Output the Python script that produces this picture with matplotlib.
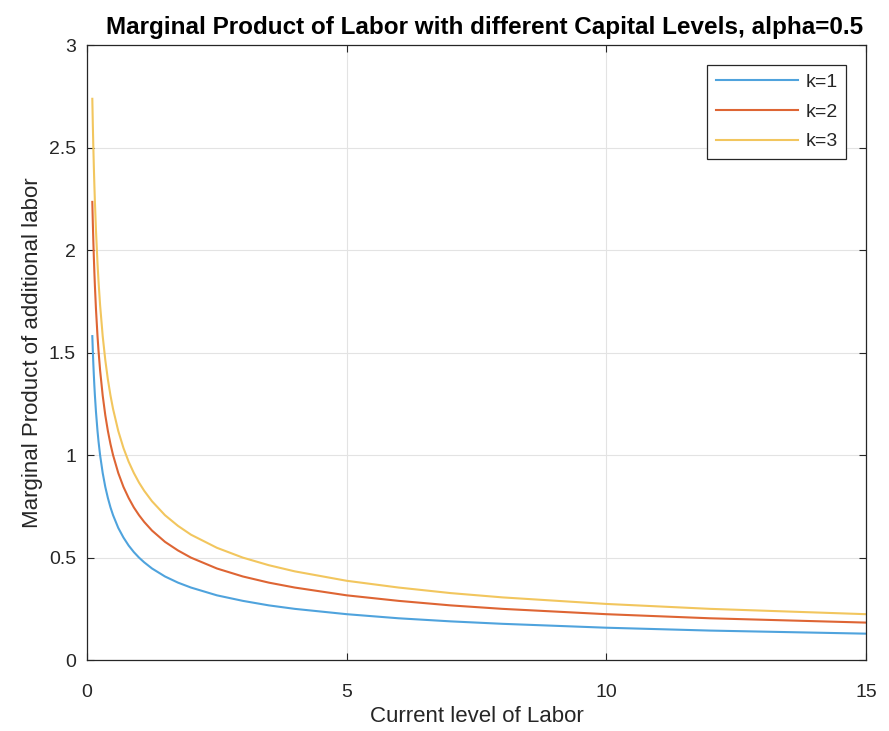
import matplotlib
matplotlib.use("Agg")
import matplotlib.pyplot as plt

plt.rcParams['font.family'] = ['Liberation Sans', 'DejaVu Sans']

# current level of labor
labor = [0.1, 0.11, 0.12, 0.13, 0.14, 0.15, 0.17, 0.2, 0.22, 0.25, 0.3, 0.35, 0.4, 0.45,
         0.5, 0.6, 0.7, 0.8, 0.9, 1.0, 1.1, 1.25, 1.5, 1.75, 2, 2.5, 3, 3.5, 4, 5, 6, 7, 8,
         10, 12, 15]

# marginal product of labor
mpl_k1 = [1.581, 1.508, 1.443, 1.387, 1.336, 1.291, 1.213, 1.118, 1.066, 1.0, 0.913, 0.845,
          0.791, 0.745, 0.707, 0.645, 0.598, 0.559, 0.527, 0.5, 0.477, 0.447, 0.408, 0.378,
          0.354, 0.316, 0.289, 0.267, 0.25, 0.224, 0.204, 0.189, 0.177, 0.158, 0.144, 0.129]
mpl_k2 = [2.236, 2.132, 2.041, 1.961, 1.890, 1.826, 1.715, 1.581, 1.508, 1.414, 1.291, 1.195,
          1.118, 1.054, 1.0, 0.913, 0.845, 0.791, 0.745, 0.707, 0.674, 0.632, 0.577, 0.535,
          0.5, 0.447, 0.408, 0.378, 0.354, 0.316, 0.289, 0.267, 0.25, 0.224, 0.204, 0.183]
mpl_k3 = [2.739, 2.611, 2.5, 2.402, 2.315, 2.236, 2.100, 1.936, 1.846, 1.732, 1.581, 1.464,
          1.369, 1.291, 1.225, 1.118, 1.035, 0.968, 0.913, 0.866, 0.826, 0.775, 0.707, 0.655,
          0.612, 0.548, 0.5, 0.463, 0.433, 0.387, 0.354, 0.327, 0.306, 0.274, 0.25, 0.224]

labels = ["k=1", "k=2", "k=3"]
colors = ["#4FA3DD", "#DE6534", "#F2C65E"]

fig = plt.figure(figsize=(8.89, 7.31), dpi=100)
ax = fig.add_axes([0.098, 0.097, 0.876, 0.841])

for y, lab, c in zip([mpl_k1, mpl_k2, mpl_k3], labels, colors):
    ax.plot(labor, y, color=c, linewidth=1.5, label=lab)

ax.set_xlim(0, 15)
ax.set_ylim(0, 3)
ax.set_xticks([0, 5, 10, 15])
ax.set_yticks([0, 0.5, 1, 1.5, 2, 2.5, 3])
ax.set_yticklabels(["0", "0.5", "1", "1.5", "2", "2.5", "3"])
ax.grid(True, color="#e3e3e3", linewidth=0.8)
ax.set_axisbelow(True)
ax.tick_params(direction="in", labelsize=14, colors="#262626", length=5, top=True, right=True,
               labeltop=False, labelright=False)
ax.tick_params(axis="x", pad=17)
ax.tick_params(axis="y", pad=8)
for s in ax.spines.values():
    s.set_color("#262626")
    s.set_linewidth(0.9)

ax.set_xlabel("Current level of Labor", fontsize=16, color="#262626", labelpad=4)
ax.set_ylabel("Marginal Product of additional labor", fontsize=16, color="#262626", labelpad=4)
ax.set_title("Marginal Product of Labor with different Capital Levels, alpha=0.5",
             fontsize=17.5, fontweight="bold", pad=8, x=0.51)

leg = ax.legend(loc="upper right", fontsize=14, fancybox=False, framealpha=1,
                edgecolor="#262626", borderaxespad=1.0, handlelength=4.2,
                handletextpad=0.4, labelspacing=0.62, borderpad=0.45)
leg.get_frame().set_linewidth(0.9)
for t in leg.get_texts():
    t.set_color("#262626")

fig.savefig("out.png", dpi=100)
